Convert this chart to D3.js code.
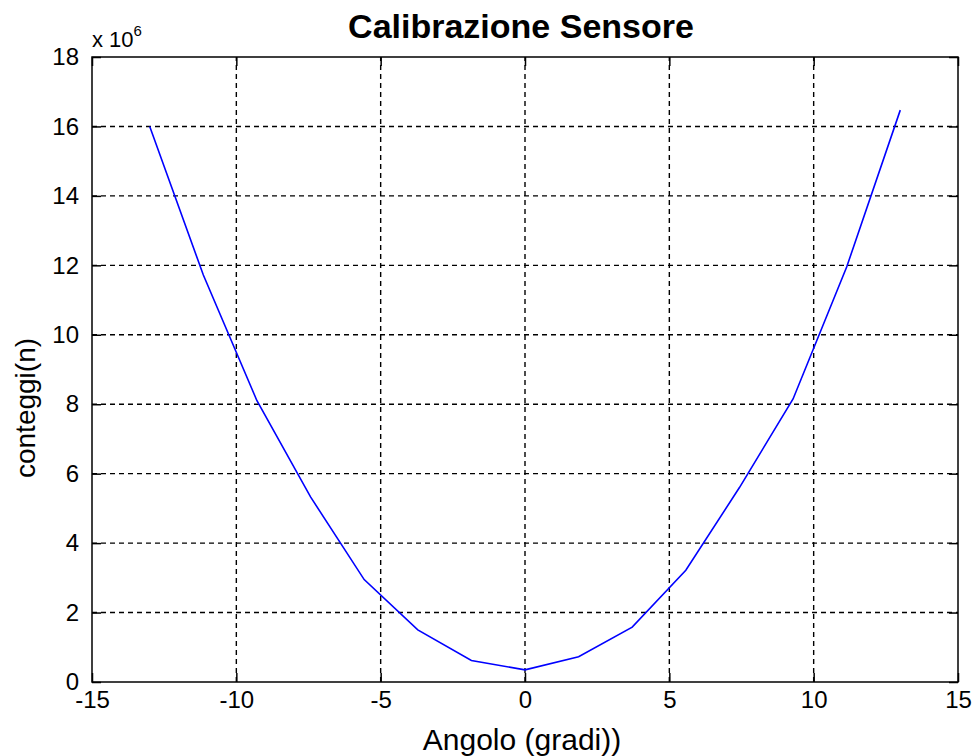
<!DOCTYPE html>
<html>
<head>
<meta charset="utf-8">
<script src="https://cdn.jsdelivr.net/npm/d3@7"></script>
<style>
  html, body { margin: 0; padding: 0; background: #fff; }
  svg { display: block; font-family: "Liberation Sans", Arial, sans-serif; }
</style>
</head>
<body>
<svg id="chart" width="976" height="756"></svg>
<script>
// ---- data ----
const angles = [-13, -11.143, -9.286, -7.429, -5.571, -3.714, -1.857, 0,
                1.857, 3.714, 5.571, 7.429, 9.286, 11.143, 13];
const counts = [16.0e6, 11.72e6, 8.1e6, 5.33e6, 2.95e6, 1.5e6, 0.62e6, 0.35e6,
                0.73e6, 1.58e6, 3.22e6, 5.6e6, 8.15e6, 11.95e6, 16.47e6];
const xTicks = [-15, -10, -5, 0, 5, 10, 15];
const yTicks = [0, 2e6, 4e6, 6e6, 8e6, 10e6, 12e6, 14e6, 16e6, 18e6];
const titleText = "Calibrazione Sensore";
const xLabelText = "Angolo (gradi))";
const yLabelText = "conteggi(n)";

// ---- layout ----
const L = 92, R = 958, T = 57, B = 682;
const svg = d3.select("#chart");
const x = d3.scaleLinear().domain([-15, 15]).range([L, R]);
const y = d3.scaleLinear().domain([0, 18e6]).range([B, T]);

// grid
const grid = svg.append("g").attr("stroke", "#000").attr("stroke-width", 1.4)
  .attr("stroke-dasharray", "5,4").attr("fill", "none");
xTicks.slice(1, -1).forEach(t => {
  grid.append("line").attr("x1", x(t)).attr("x2", x(t)).attr("y1", B).attr("y2", T);
});
yTicks.slice(1, -1).forEach(t => {
  grid.append("line").attr("y1", y(t)).attr("y2", y(t)).attr("x1", L).attr("x2", R);
});

// axes (inner ticks on all four sides)
const tl = 9;
const fmtX = d => String(d);
const fmtY = d => String(Math.round(d / 1e6));
const axB = d3.axisBottom(x).tickValues(xTicks).tickSizeInner(-tl).tickSizeOuter(0).tickPadding(9).tickFormat(fmtX);
const axT = d3.axisTop(x).tickValues(xTicks).tickSizeInner(-tl).tickSizeOuter(0).tickFormat("");
const axLft = d3.axisLeft(y).tickValues(yTicks).tickSizeInner(-tl).tickSizeOuter(0).tickPadding(13).tickFormat(fmtY);
const axRt = d3.axisRight(y).tickValues(yTicks).tickSizeInner(-tl).tickSizeOuter(0).tickFormat("");

function style(g) {
  g.select(".domain").remove();
  g.selectAll(".tick line").attr("stroke", "#000").attr("stroke-width", 1.5);
  g.selectAll(".tick text").attr("fill", "#000").attr("font-size", 24)
    .attr("font-family", "'Liberation Sans', Arial, sans-serif");
}
svg.append("g").attr("transform", `translate(0,${B})`).call(axB).call(style);
svg.append("g").attr("transform", `translate(0,${T})`).call(axT).call(style);
svg.append("g").attr("transform", `translate(${L},0)`).call(axLft).call(style);
svg.append("g").attr("transform", `translate(${R},0)`).call(axRt).call(style);

// box
svg.append("rect").attr("x", L).attr("y", T).attr("width", R - L).attr("height", B - T)
  .attr("fill", "none").attr("stroke", "#000").attr("stroke-width", 1.5);

// line
const line = d3.line().x((d, i) => x(angles[i])).y(d => y(d));
svg.append("path").datum(counts).attr("d", line)
  .attr("fill", "none").attr("stroke", "#0000ff").attr("stroke-width", 1.6);

// title
svg.append("text").attr("x", 521).attr("y", 38).attr("text-anchor", "middle")
  .attr("font-size", 34).attr("font-weight", "bold").attr("fill", "#000").text(titleText);

// axis labels
svg.append("text").attr("x", 522).attr("y", 750).attr("text-anchor", "middle")
  .attr("font-size", 30).attr("fill", "#000").text(xLabelText);
svg.append("text").attr("transform", `translate(35,${408}) rotate(-90)`).attr("text-anchor", "middle")
  .attr("font-size", 28).attr("fill", "#000").text(yLabelText);

// exponent
const ex = svg.append("text").attr("x", 92).attr("y", 47).attr("font-size", 22).attr("fill", "#000");
ex.append("tspan").text("x 10");
ex.append("tspan").attr("dy", -11).attr("font-size", 15).text("6");
</script>
</body>
</html>
